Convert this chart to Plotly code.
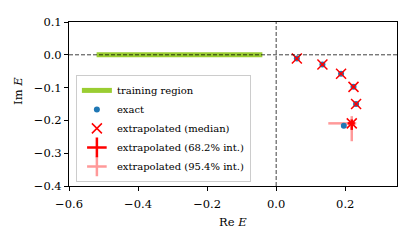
import plotly.graph_objects as go

# ---- data ----
train_re = [-0.52, -0.04]
train_im = [0.0, 0.0]

exact_re = [0.060, 0.134, 0.188, 0.224, 0.2315, 0.196]
exact_im = [-0.0114, -0.0293, -0.0575, -0.0977, -0.150, -0.216]

extr_re = [0.060, 0.134, 0.188, 0.224, 0.2315, 0.219]
extr_im = [-0.0114, -0.0293, -0.0575, -0.0977, -0.150, -0.209]

# 68.2% interval (plus / minus)
e68_re_plus = [0.001, 0.001, 0.001, 0.0015, 0.0015, 0.009]
e68_re_minus = [0.001, 0.001, 0.001, 0.0015, 0.0015, 0.012]
e68_im_plus = [0.001, 0.001, 0.0015, 0.0015, 0.002, 0.012]
e68_im_minus = [0.001, 0.001, 0.0015, 0.0015, 0.002, 0.020]

# 95.4% interval (plus / minus)
e95_re_plus = [0.003, 0.003, 0.003, 0.004, 0.004, 0.013]
e95_re_minus = [0.003, 0.003, 0.003, 0.004, 0.004, 0.068]
e95_im_plus = [0.003, 0.003, 0.004, 0.004, 0.005, 0.022]
e95_im_minus = [0.003, 0.003, 0.004, 0.004, 0.005, 0.0545]

x_ticks = [-0.6, -0.4, -0.2, 0.0, 0.2]
y_ticks = [0.1, 0.0, -0.1, -0.2, -0.3, -0.4]

RED = "red"
PALE = "rgba(255,0,0,0.4)"
BLUE = "#1f77b4"
GREEN = "yellowgreen"
FONT = "DejaVu Serif"

fig = go.Figure()

# training region
fig.add_trace(go.Scatter(x=train_re, y=train_im, mode="lines",
                         line=dict(color=GREEN, width=5),
                         name="training region"))

# 95% error bars
fig.add_trace(go.Scatter(x=extr_re, y=extr_im, mode="markers",
                         marker=dict(size=1, opacity=0),
                         error_x=dict(type="data", symmetric=False, array=e95_re_plus,
                                      arrayminus=e95_re_minus, color=PALE, thickness=2.5, width=0),
                         error_y=dict(type="data", symmetric=False, array=e95_im_plus,
                                      arrayminus=e95_im_minus, color=PALE, thickness=2.5, width=0),
                         showlegend=False, hoverinfo="skip"))

# exact
fig.add_trace(go.Scatter(x=exact_re, y=exact_im, mode="markers",
                         marker=dict(symbol="circle", size=6, color=BLUE),
                         name="exact"))

# 68% error bars
fig.add_trace(go.Scatter(x=extr_re, y=extr_im, mode="markers",
                         marker=dict(size=1, opacity=0),
                         error_x=dict(type="data", symmetric=False, array=e68_re_plus,
                                      arrayminus=e68_re_minus, color=RED, thickness=2.5, width=0),
                         error_y=dict(type="data", symmetric=False, array=e68_im_plus,
                                      arrayminus=e68_im_minus, color=RED, thickness=2.5, width=0),
                         showlegend=False, hoverinfo="skip"))

# median
fig.add_trace(go.Scatter(x=extr_re, y=extr_im, mode="markers",
                         marker=dict(symbol="x-thin", size=10, line=dict(color=RED, width=1.5)),
                         name="extrapolated (median)"))

# legend-only entries for intervals
fig.add_trace(go.Scatter(x=[None], y=[None], mode="markers",
                         marker=dict(symbol="cross-thin", size=14, line=dict(color=RED, width=2.5)),
                         name="extrapolated (68.2% int.)"))
fig.add_trace(go.Scatter(x=[None], y=[None], mode="markers",
                         marker=dict(symbol="cross-thin", size=14, line=dict(color=PALE, width=2.5)),
                         name="extrapolated (95.4% int.)"))

fig.add_hline(y=0, line=dict(color="rgba(0,0,0,0.75)", width=1, dash="4px,2px"), layer="above")
fig.add_vline(x=0, line=dict(color="rgba(0,0,0,0.75)", width=1, dash="4px,2px"), layer="above")

axis_common = dict(showline=True, linecolor="black", linewidth=1, mirror=True,
                   ticks="outside", ticklen=4, tickcolor="black", tickwidth=1,
                   showgrid=False, zeroline=False,
                   tickfont=dict(family=FONT, size=11.5, color="black"))

fig.update_xaxes(range=[-0.6, 0.35], tickvals=x_ticks, ticklabelstandoff=3,
                 ticktext=[f"{v:.1f}".replace("-", "\u2212") for v in x_ticks], **axis_common)
fig.update_yaxes(range=[-0.4, 0.1], tickvals=y_ticks,
                 ticktext=[f"{v:.1f}".replace("-", "\u2212") for v in y_ticks], **axis_common)

fig.add_annotation(text="Re <i>E</i>", xref="paper", yref="paper", x=0.5, y=0,
                   yshift=-36, yanchor="middle", showarrow=False,
                   font=dict(family=FONT, size=11.5, color="black"))
fig.add_annotation(text="Im <i>E</i>", xref="paper", yref="paper", x=0, y=0.58,
                   xshift=-51, textangle=-90, xanchor="center", yanchor="middle", showarrow=False,
                   font=dict(family=FONT, size=11.5, color="black"))

# page body adds an 8px margin, so the figure is sized/offset to compensate
fig.update_layout(
    width=399, height=233,
    margin=dict(l=61, r=10, t=7, b=55),
    plot_bgcolor="white", paper_bgcolor="white",
    legend=dict(x=0.021, y=0.025, xanchor="left", yanchor="bottom",
                bgcolor="rgba(255,255,255,0.85)", bordercolor="#cccccc", borderwidth=1,
                font=dict(family=FONT, size=10, color="black"),
                itemsizing="trace"),
)

fig.write_html("out.html")
